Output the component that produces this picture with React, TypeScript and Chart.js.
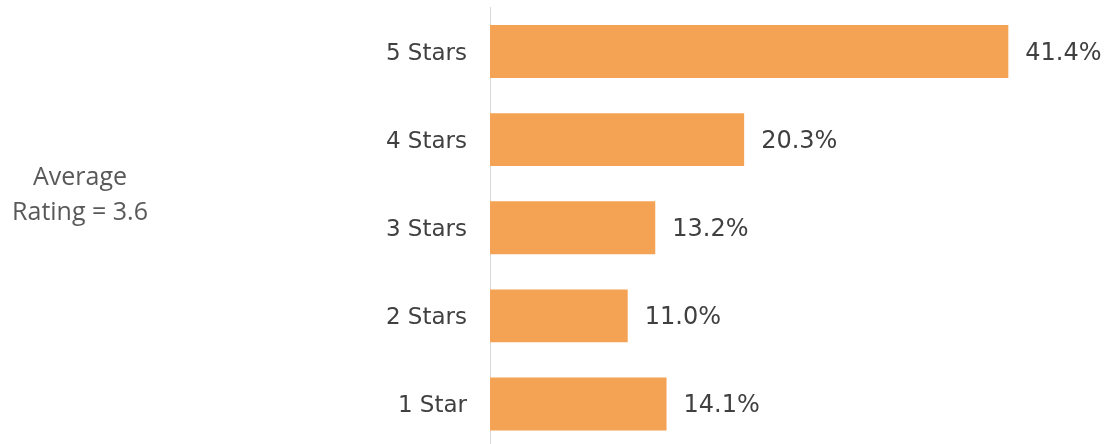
import React, { useEffect, useRef } from "react";
import { Chart, registerables } from "chart.js";

Chart.register(...registerables);

const categories = ["5 Stars", "4 Stars", "3 Stars", "2 Stars", "1 Star"];
const shares = [41.4, 20.3, 13.2, 11.0, 14.1];
const valueLabels = ["41.4%", "20.3%", "13.2%", "11.0%", "14.1%"];
const noteLines = ["Average", "Rating = 3.6"];

const BAR_COLOR = "#F4A354";
const TEXT_COLOR = "#404040";
const NOTE_COLOR = "#595959";
const LABEL_FONT = '"DejaVu Sans", sans-serif';

export default function App() {
  const canvasRef = useRef<HTMLCanvasElement | null>(null);

  useEffect(() => {
    const canvas = canvasRef.current;
    if (!canvas) return;

    const valuePlugin = {
      id: "valueLabels",
      afterDatasetsDraw(chart: any) {
        const ctx = chart.ctx;
        const meta = chart.getDatasetMeta(0);
        ctx.save();
        ctx.font = `24px ${LABEL_FONT}`;
        ctx.fillStyle = TEXT_COLOR;
        ctx.textAlign = "left";
        ctx.textBaseline = "middle";
        meta.data.forEach((bar: any, i: number) => {
          ctx.fillText(valueLabels[i], bar.x + 17, bar.y + 2);
        });
        ctx.restore();
      },
    };

    const notePlugin = {
      id: "note",
      afterDraw(chart: any) {
        const ctx = chart.ctx;
        ctx.save();
        ctx.font = '25px "Open Sans", sans-serif';
        ctx.fillStyle = NOTE_COLOR;
        ctx.textAlign = "center";
        ctx.textBaseline = "alphabetic";
        ctx.fillText(noteLines[0], 80, 185);
        ctx.fillText(noteLines[1], 80, 220);
        ctx.restore();
      },
    };

    const chart = new Chart(canvas, {
      type: "bar",
      data: {
        labels: categories,
        datasets: [
          {
            data: shares,
            backgroundColor: BAR_COLOR,
            borderWidth: 0,
            categoryPercentage: 1,
            barPercentage: 0.6,
          },
        ],
      },
      options: {
        indexAxis: "y",
        animation: false,
        responsive: true,
        maintainAspectRatio: false,
        layout: { padding: { top: 7.5, right: 0, bottom: 0, left: 0 } },
        plugins: {
          legend: { display: false },
          tooltip: { enabled: false },
          title: { display: false },
        },
        scales: {
          x: { display: false, min: 0, max: 50 },
          y: {
            grid: { display: false, drawTicks: false },
            border: { display: true, color: "#d9d9d9", width: 1 },
            ticks: {
              padding: 23,
              labelOffset: 2,
              color: TEXT_COLOR,
              font: { family: LABEL_FONT, size: 23 },
            },
            afterFit(scale: any) {
              scale.width = 490;
              scale.paddingTop = 0;
              scale.paddingBottom = 0;
            },
          },
        },
      },
      plugins: [valuePlugin, notePlugin],
    } as any);

    return () => chart.destroy();
  }, []);

  return (
    <div
      style={{
        position: "fixed",
        left: 0,
        top: 0,
        width: 1116,
        height: 444,
        overflow: "hidden",
        background: "#ffffff",
      }}
    >
      <div style={{ position: "relative", width: 1116, height: 448 }}>
        <canvas ref={canvasRef} />
      </div>
    </div>
  );
}
